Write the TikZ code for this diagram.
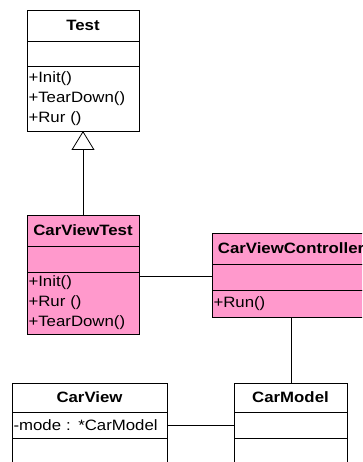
\documentclass[tikz,border=0pt]{standalone}
\usepackage{fontspec}
\setmainfont[FakeStretch=1.12]{Liberation Sans}
\usetikzlibrary{positioning,arrows.meta}
\definecolor{carpink}{RGB}{255,153,204}

\tikzset{
  uml/.style={draw=black,line width=0.8pt,inner xsep=1.5pt,inner ysep=0pt,outer sep=0pt,font=\fontsize{15}{20}\selectfont},
  umlname/.style={uml,text width=#1,align=center,minimum height=31pt,font=\fontsize{15}{20}\selectfont\bfseries},
  umlpart/.style={uml,text width=#1,align=left},
  link/.style={line width=0.8pt},
}

\begin{document}
\begin{tikzpicture}[x=1pt,y=-1pt]
\useasboundingbox (0,0) rectangle (362,462);
\clip (0,0) rectangle (362,462);
% base class
\node[umlname=109pt] (test) at (83,25.5) {Test};
\node[umlpart=109pt,minimum height=25pt,below=0pt of test] (test-attr) {};
\node[umlpart=109pt,minimum height=65pt,below=0pt of test-attr] (test-ops) {+Init()\\+TearDown()\\+Rur ()};
% test class and controller
\node[umlname=109pt,fill=carpink] (cvt) at (83,230.5) {CarViewTest};
\node[umlpart=109pt,minimum height=26pt,fill=carpink,below=0pt of cvt] (cvt-attr) {};
\node[umlpart=109pt,minimum height=62pt,fill=carpink,below=0pt of cvt-attr] (cvt-ops) {+Init()\\+Rur ()\\+TearDown()};
\node[umlname=155pt,fill=carpink] (cvc) at (291,248.5) {CarViewController};
\node[umlpart=155pt,minimum height=26pt,fill=carpink,below=0pt of cvc] (cvc-attr) {};
\node[umlpart=155pt,minimum height=27pt,fill=carpink,below=0pt of cvc-attr] (cvc-ops) {+Run()};
% view and model
\node[umlname=152pt,minimum height=29pt] (view) at (89.5,397.5) {CarView};
\node[umlpart=152pt,minimum height=26pt,below=0pt of view] (view-attr) {-mode : *CarModel};
\node[umlpart=152pt,minimum height=40pt,below=0pt of view-attr] (view-ops) {};
\node[umlname=110pt,minimum height=29pt] (model) at (290.5,397.5) {CarModel};
\node[umlpart=110pt,minimum height=26pt,below=0pt of model] (model-attr) {};
\node[umlpart=110pt,minimum height=40pt,below=0pt of model-attr] (model-ops) {};
% connectors
\draw[link,-{Triangle[open,length=19pt,width=23pt]}] (cvt.north) -- (test-ops.south);
\draw[link] ([yshift=-4pt]cvt-ops.north east) -- ([yshift=-4pt]cvt-ops.north east -| cvc-attr.west);
\draw[link] (cvc-ops.south) -- (cvc-ops.south |- model.north);
\draw[link] (view-attr.east) -- (model-attr.west);
\end{tikzpicture}
\end{document}
